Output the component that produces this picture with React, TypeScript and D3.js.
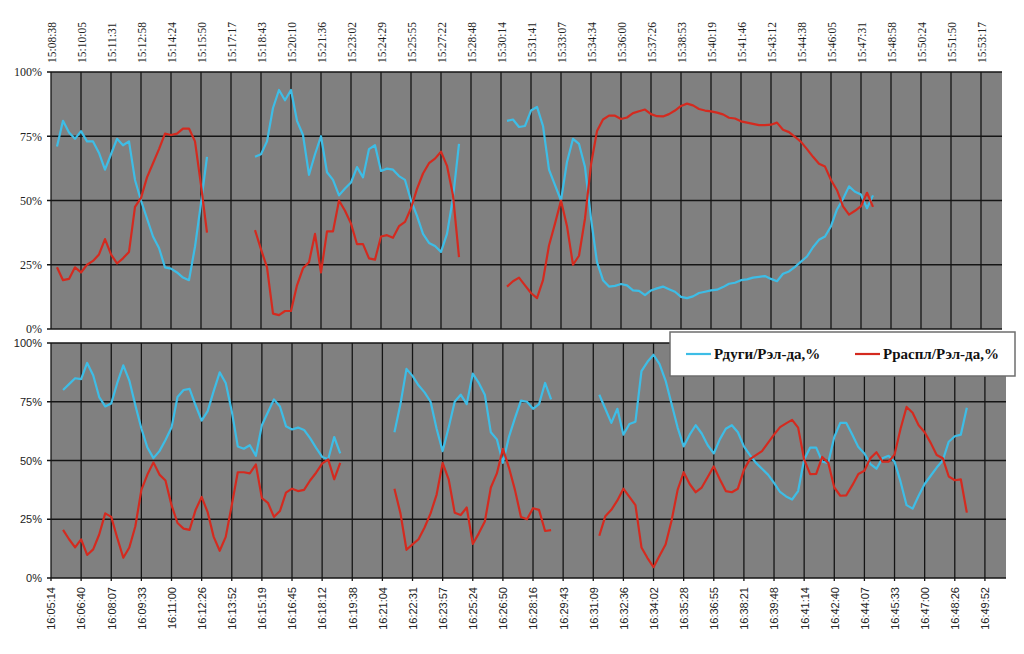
import React, { useEffect, useRef } from 'react';
import * as d3 from 'd3';

type V = number | null;
const gap = (n: number): V[] => Array(n).fill(null);

// tick labels, one every 5 samples
const topTicks = [
  '15:08:38', '15:10:05', '15:11:31', '15:12:58', '15:14:24', '15:15:50', '15:17:17', '15:18:43',
  '15:20:10', '15:21:36', '15:23:02', '15:24:29', '15:25:55', '15:27:22', '15:28:48', '15:30:14',
  '15:31:41', '15:33:07', '15:34:34', '15:36:00', '15:37:26', '15:38:53', '15:40:19', '15:41:46',
  '15:43:12', '15:44:38', '15:46:05', '15:47:31', '15:48:58', '15:50:24', '15:51:50', '15:53:17',
];
const bottomTicks = [
  '16:05:14', '16:06:40', '16:08:07', '16:09:33', '16:11:00', '16:12:26', '16:13:52', '16:15:19',
  '16:16:45', '16:18:12', '16:19:38', '16:21:04', '16:22:31', '16:23:57', '16:25:24', '16:26:50',
  '16:28:16', '16:29:43', '16:31:09', '16:32:36', '16:34:02', '16:35:28', '16:36:55', '16:38:21',
  '16:39:48', '16:41:14', '16:42:40', '16:44:07', '16:45:33', '16:47:00', '16:48:26', '16:49:52',
];

const seriesNames = ['Рдуги/Рэл-да,%', 'Рраспл/Рэл-да,%'];
const seriesColors = ['#3dbde6', '#d42a1f'];

// Рдуги, first run
const topArc: V[] = [
  null, 71, 81, 76.5, 74, 77, 73, 73, 68.5, 62, 68, 74, 71.5, 73, 58, 50, 43, 36, 31.5, 24, 23.5,
  22, 20, 19, 32, 49, 67,
  ...gap(7),
  67, 68, 73, 86, 93, 89, 93, 81, 75.5, 60, 68, 75, 61, 58, 52, 54.7, 57, 63, 59, 70, 71.5, 61.5,
  62.4, 62, 59.5, 58, 50, 44, 37, 33.5, 32.3, 30, 37, 51, 72,
  ...gap(7),
  81, 81.5, 78.6, 79, 85, 86.4, 79, 62, 56, 50, 65, 74, 72, 63, 43, 26, 19, 16.5, 16.8, 17.5, 17,
  15, 14.8, 13.2, 15, 15.8, 16.5, 15.5, 14.5, 12.5, 12, 12.7, 14, 14.5, 15, 15.3, 16.3, 17.6, 18,
  19, 19.3, 20, 20.3, 20.6, 19.5, 18.6, 21.5, 22.4, 24.2, 26.2, 28.2, 31.8, 34.7, 36, 40, 46.5,
  50.6, 55.5, 53.4, 52.3, 47, 52,
];

// Рраспл, first run
const topMelt: V[] = [
  null, 24, 19, 19.5, 24, 22, 25, 26.5, 29, 35, 29, 25.5, 27.5, 30, 47.5, 51, 59, 64.5, 70, 76,
  75.5, 76, 78, 78, 73, 56, 37.5,
  ...gap(7),
  38.5, 31, 24, 6, 5.4, 7, 7, 17, 23.6, 26, 37, 22, 38, 38, 50, 46, 41, 33, 33, 27.5, 27, 36,
  36.5, 35.5, 40, 41.7, 47, 54.5, 60.5, 64.5, 66.3, 69, 63.5, 52, 28,
  ...gap(7),
  16.5, 18.6, 20, 17, 14, 12, 19, 32.5, 41, 50, 40, 25, 28.5, 43, 64, 77, 81.5, 83, 83, 81.7,
  82.3, 84, 84.7, 85.4, 83.6, 82.8, 82.7, 83.6, 85, 86.8, 87.7, 87, 85.6, 85, 84.7, 84.2, 83.5,
  82.2, 81.9, 80.8, 80.3, 79.8, 79.3, 79.3, 79.5, 80.3, 77.5, 76.6, 74.8, 72.8, 70, 67, 64.3,
  63.2, 58, 54, 47.7, 44.5, 46, 47.8, 53, 47.5,
];

// second run
const bottomArc: V[] = [
  null, null, 80, 82.5, 85, 84.6, 91.5, 86.3, 77, 73, 74.3, 83, 90.5, 84, 73.5, 63.6, 55.5, 51,
  54, 58.7, 64, 77, 80, 80.5, 73.5, 67, 71, 79.5, 87.5, 83, 71, 56, 55, 56.5, 52, 65, 70.5, 76,
  73, 64.6, 63.2, 64, 63, 59.5, 55.4, 51.5, 50.5, 60, 53,
  ...gap(8),
  62, 74, 89, 86, 82, 79, 75, 63.5, 54, 64, 75, 78, 74, 87, 83, 78, 62, 59, 49, 60, 68, 75.5, 75,
  72, 74, 83, 76,
  ...gap(7),
  78, 72, 66, 72, 61, 65.5, 66.5, 88, 92, 95, 91, 84, 74, 64, 56, 61, 65, 61.5, 56.5, 53, 59,
  63.5, 65, 62, 56, 52.3, 49, 46.5, 44, 40.5, 36.6, 34.7, 33.4, 37, 50.4, 55.5, 55.5, 49.5, 49,
  60, 66, 66, 61, 55.7, 53, 48.5, 46.5, 51, 52, 49.5, 41, 31, 29.5, 35, 40, 43.5, 47, 50, 58,
  60.3, 61, 72.4,
];

const bottomMelt: V[] = [
  null, null, 20.5, 16.5, 13, 16.4, 9.8, 12.2, 18.5, 27.5, 26, 17, 8.6, 13, 22, 37.5, 44, 49.2,
  44, 41.5, 31, 23.4, 21, 20.5, 29, 34.5, 28, 17.5, 11.6, 17.5, 31, 45, 45, 44.5, 48.3, 34, 32,
  26, 28.5, 36.3, 38, 37, 37.5, 41.5, 44.8, 48.7, 50.5, 42, 49,
  ...gap(8),
  38, 27.5, 12, 14.3, 16.5, 21.5, 27.5, 35.5, 49, 42, 27.8, 26.8, 30, 14.5, 19, 24, 38.5, 44.5,
  55, 47, 37.5, 26, 25, 29.7, 29, 20, 20.4,
  ...gap(7),
  18, 26.3, 29, 33, 38, 34.5, 31, 13, 8.5, 4.6, 9.5, 14.3, 24.5, 37.5, 45, 40, 36.5, 38.5, 43,
  47.5, 42, 37, 36.5, 38, 46, 50.6, 52.3, 54, 57.5, 61, 64.2, 65.8, 67.3, 64, 50.4, 44.2, 44.3,
  51.5, 49, 38.5, 35, 35.2, 39.5, 44.3, 45.6, 51, 53.5, 49.5, 49.5, 52.5, 63.5, 72.8, 70.3, 65,
  62, 57.5, 52.3, 51, 43.2, 41.6, 42, 27.8,
];

const yTicks = [0, 25, 50, 75, 100];

const W = 1024;
const H = 654;

const App: React.FC = () => {
  const svgRef = useRef<SVGSVGElement | null>(null);

  useEffect(() => {
    const svg = d3.select(svgRef.current);
    svg.selectAll('*').remove();

    const panels = [
      {
        ticks: topTicks, series: [topArc, topMelt], left: 51, right: 1002, top: 72, bottom: 329,
        axisAtTop: true, font: '"Liberation Serif", "Times New Roman", serif', tickFont: 11.5, yFont: 12,
      },
      {
        ticks: bottomTicks, series: [bottomArc, bottomMelt], left: 51, right: 1006, top: 343, bottom: 578,
        axisAtTop: false, font: '"Liberation Sans", Arial, sans-serif', tickFont: 11, yFont: 11,
      },
    ];

    panels.forEach((p) => {
      const x = d3.scaleLinear().domain([0, 158.5]).range([p.left, p.right]);
      const y = d3.scaleLinear().domain([0, 100]).range([p.bottom, p.top]);
      const tickVals = p.ticks.map((_, i) => i * 5);
      const g = svg.append('g');

      g.append('rect')
        .attr('x', p.left)
        .attr('y', p.top)
        .attr('width', p.right - p.left)
        .attr('height', p.bottom - p.top)
        .attr('fill', '#808080');

      // vertical grid
      g.append('g')
        .selectAll('line')
        .data(tickVals)
        .enter()
        .append('line')
        .attr('x1', (d) => x(d))
        .attr('x2', (d) => x(d))
        .attr('y1', p.top)
        .attr('y2', p.axisAtTop ? p.bottom : p.bottom + 3)
        .attr('stroke', '#151515')
        .attr('stroke-width', 1.3);

      // horizontal grid
      g.append('g')
        .selectAll('line')
        .data(yTicks)
        .enter()
        .append('line')
        .attr('x1', p.left - 4)
        .attr('x2', p.right)
        .attr('y1', (d) => y(d))
        .attr('y2', (d) => y(d))
        .attr('stroke', '#151515')
        .attr('stroke-width', 1.3);

      // y labels
      const yAxis = d3.axisLeft(y).tickValues(yTicks).tickSize(0).tickPadding(9).tickFormat((d) => `${d}%`);
      const ya = g.append('g').attr('transform', `translate(${p.left},0)`).call(yAxis);
      ya.select('.domain').remove();
      ya.selectAll('text')
        .style('font-family', p.font)
        .style('font-size', `${p.yFont}px`)
        .attr('fill', '#222');

      // time labels
      const xAxis = (p.axisAtTop ? d3.axisTop(x) : d3.axisBottom(x))
        .tickValues(tickVals)
        .tickSize(0)
        .tickFormat((_, i) => p.ticks[i]);
      const xa = g
        .append('g')
        .attr('transform', `translate(0,${p.axisAtTop ? p.top : p.bottom})`)
        .call(xAxis);
      xa.select('.domain').remove();
      xa.selectAll('text')
        .attr('transform', 'rotate(-90)')
        .attr('x', p.axisAtTop ? 9 : -9)
        .attr('y', 0)
        .attr('dy', '0.35em')
        .style('text-anchor', p.axisAtTop ? 'start' : 'end')
        .style('font-family', p.font)
        .style('font-size', `${p.tickFont}px`)
        .attr('fill', '#222');

      const line = d3
        .line<V>()
        .defined((d) => d !== null)
        .x((_, i) => x(i))
        .y((d) => y(d as number));

      p.series.forEach((s, si) => {
        g.append('path')
          .datum(s)
          .attr('d', line)
          .attr('fill', 'none')
          .attr('stroke', seriesColors[si])
          .attr('stroke-width', 2.2)
          .attr('stroke-linejoin', 'round');
      });
    });

    // legend
    const lg = svg.append('g').attr('transform', 'translate(670,332)');
    lg.append('rect')
      .attr('x', 0)
      .attr('y', 0)
      .attr('width', 345)
      .attr('height', 44)
      .attr('fill', '#fff')
      .attr('stroke', '#6e6e6e')
      .attr('stroke-width', 1.5);
    const items = lg
      .selectAll('g.item')
      .data(seriesNames)
      .enter()
      .append('g')
      .attr('transform', (_, i) => `translate(${i === 0 ? 16 : 185},22)`);
    items
      .append('line')
      .attr('x1', 0)
      .attr('x2', 25)
      .attr('stroke', (_, i) => seriesColors[i])
      .attr('stroke-width', 2.2);
    items
      .append('text')
      .attr('x', 28)
      .attr('dy', '0.35em')
      .style('font-family', '"Liberation Serif", "Times New Roman", serif')
      .style('font-size', '15px')
      .style('font-weight', 'bold')
      .attr('fill', '#111')
      .text((d) => d);
  }, []);

  return (
    <svg
      ref={svgRef}
      width={W}
      height={H}
      style={{ position: 'absolute', left: 0, top: 0, background: '#fff' }}
    ></svg>
  );
};

export default App;
